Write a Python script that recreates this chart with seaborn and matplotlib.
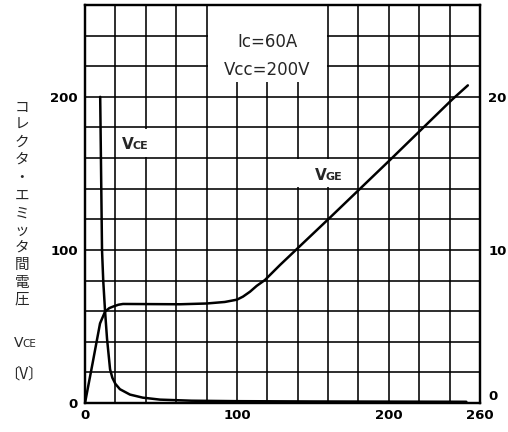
import matplotlib
matplotlib.use("Agg")
import matplotlib.pyplot as plt
import seaborn as sns
from matplotlib.patches import Rectangle

# ---- data -------------------------------------------------------------
# collector-emitter voltage during turn-on (left axis, V) vs time
t_vce = [10.0, 10.6, 11.2, 12.0, 13.2, 14.5, 16.5, 18.0, 20.0, 23.0, 29.6,
         38.0, 49.4, 70.0, 100.0, 150.0, 200.0, 251.0]
vce = [200, 150, 100, 80, 60, 42, 22, 16.5, 12.5, 9.0, 5.5,
       3.5, 2.2, 1.5, 1.2, 1.0, 0.9, 0.8]

# gate-emitter voltage (right axis, V) vs time
t_vge = [0, 5, 9.9, 13.2, 16, 18.5, 22, 25, 62.5, 80, 92, 100, 104, 108.6,
         113, 118.5, 128.4, 160.6, 200.8, 241.4, 252]
vge = [0, 2.6, 5.2, 5.97, 6.2, 6.3, 6.42, 6.47, 6.45, 6.5, 6.6, 6.75, 6.95,
       7.27, 7.65, 8.04, 9.02, 12.05, 15.88, 19.8, 20.75]

x_ticklabels = {0: "0", 100: "100", 200: "200", 260: "260"}
left_ticklabels = {0: "0", 100: "100", 200: "200"}
right_ticks = [0, 10, 20]

ylabel_chars = list("コレクタ・エミッタ間電圧")
ylabel_char_y = [108, 125, 143, 160, 178, 196, 214, 231, 248, 265, 283, 300]

# ---- style ------------------------------------------------------------
sns.set_style("white")
plt.rcParams["font.family"] = ["DejaVu Sans", "Noto Sans CJK JP"]

W, H, DPI = 508, 432, 100
fig = plt.figure(figsize=(W / DPI, H / DPI), dpi=DPI)
ax = fig.add_axes([85 / W, 1 - 403 / H, 395 / W, 398 / H])

ax.set_xlim(0, 260)
ax.set_ylim(0, 260)
grid_pos = list(range(0, 261, 20))
ax.set_xticks(grid_pos)
ax.set_yticks(grid_pos)
ax.set_xticklabels([x_ticklabels.get(v, "") for v in grid_pos])
ax.set_yticklabels([left_ticklabels.get(v, "") for v in grid_pos])
ax.grid(True, color="black", linewidth=1.15)
ax.set_axisbelow(True)
ax.tick_params(axis="both", length=0, labelsize=9.5, colors="black")
ax.tick_params(axis="x", pad=4)
ax.tick_params(axis="y", pad=5)
for lab in ax.get_xticklabels() + ax.get_yticklabels():
    lab.set_fontweight("bold")
for sp in ax.spines.values():
    sp.set_linewidth(1.6)
    sp.set_color("black")

# blank cells of the grid behind the annotations
blank_cells = [(80.8, 210.0, 78.4, 50.0),
               (20.8, 160.8, 38.4, 18.4),
               (138.8, 140.8, 40.4, 18.4)]
for (x0, y0, w, h) in blank_cells:
    ax.add_patch(Rectangle((x0, y0), w, h, facecolor="white",
                           edgecolor="none", zorder=1))

sns.lineplot(x=t_vce, y=vce, ax=ax, color="black", linewidth=1.8,
             sort=False, zorder=3)
ax.set_xlabel("")
ax.set_ylabel("")

# right axis for gate voltage
ax2 = ax.twinx()
ax2.set_ylim(0, 26)
sns.lineplot(x=t_vge, y=vge, ax=ax2, color="black", linewidth=1.8,
             sort=False, zorder=3)
ax2.set_ylabel("")
ax2.set_yticks(right_ticks)
ax2.set_yticklabels([str(v) for v in right_ticks])
ax2.tick_params(axis="y", length=0, labelsize=9.5, pad=6, colors="black")
for lab in ax2.get_yticklabels():
    lab.set_fontweight("bold")
ax2.get_yticklabels()[0].set_verticalalignment("bottom")
ax2.grid(False)
for sp in ax2.spines.values():
    sp.set_linewidth(1.6)
    sp.set_color("black")
ax.set_xlim(0, 260)

fig.canvas.draw()
renderer = fig.canvas.get_renderer()


def small_caps(host, x, y, big, small, size_big, size_small, weight,
               transform):
    """Draw a large letter followed by smaller capitals on one baseline."""
    t = host.text(x, y, big, fontsize=size_big, fontweight=weight,
                  ha="left", va="baseline", transform=transform, zorder=4)
    bb = t.get_window_extent(renderer=renderer)
    ax.annotate(small, xy=(x, y), xycoords=transform,
                xytext=(bb.width * 72 / DPI - 0.6, 0),
                textcoords="offset points", fontsize=size_small,
                fontweight=weight, ha="left", va="baseline", zorder=4,
                annotation_clip=False)


# curve labels
small_caps(ax, 24.2, 165.8, "V", "CE", 11, 8, "bold", ax.transData)
small_caps(ax, 151.4, 145.8, "V", "GE", 11, 8, "bold", ax.transData)

# test conditions
ax.text(120, 236, "Ic=60A", fontsize=12, ha="center", va="center", zorder=4)
ax.text(120, 217.6, "Vcc=200V", fontsize=12, ha="center", va="center",
        zorder=4)

# vertical Japanese axis title
for ch, yp in zip(ylabel_chars, ylabel_char_y):
    fig.text(22 / W, 1 - yp / H, ch, fontsize=10.5, ha="center",
             va="center", family=["Noto Sans CJK JP", "DejaVu Sans"])
small_caps(fig, 14 / W, 1 - 347 / H, "V", "CE", 10, 7.5, "normal",
           fig.transFigure)
fig.text(24 / W, 1 - 374 / H, "〔V〕", fontsize=11, ha="center", va="center",
         family=["Noto Sans CJK JP", "DejaVu Sans"])

fig.savefig("out.png", dpi=DPI)
